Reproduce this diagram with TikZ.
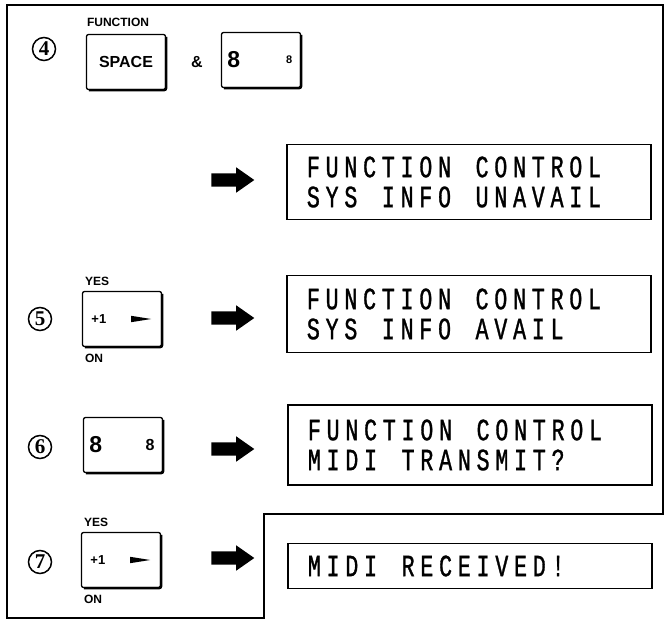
\documentclass[tikz,border=0pt]{standalone}
\usepackage{fontspec}
\setsansfont{Liberation Sans}
\newfontfamily\lcdfont{Liberation Mono}[FakeStretch=0.7, FakeBold=1]
\newfontfamily\numfont{Liberation Serif}
\usetikzlibrary{positioning, shapes.arrows}

% one fixed cell per character, as on the display
\ExplSyntaxOn
\NewDocumentCommand \lcdline { m }
  { \str_map_inline:nn {#1} { \makebox[18.75pt][c]{##1} } }
\ExplSyntaxOff

\tikzset{
  key/.style={draw, line width=1.3pt, rounded corners=2pt, minimum width=79pt, minimum height=55pt, inner sep=0pt},
  keytext/.style={font=\sffamily\bfseries\fontsize{16}{16}\selectfont, inner sep=0pt},
  keylabel/.style={font=\sffamily\bfseries\fontsize{12}{12}\selectfont, inner sep=0pt},
  stepnum/.style={circle, draw, line width=1.5pt, minimum size=23pt, inner sep=0pt, font=\numfont\bfseries\fontsize{21}{21}\selectfont},
  lcd/.style={draw, line width=1.2pt, text width=330pt, align=left, inner xsep=17pt, inner ysep=0pt, font=\lcdfont\fontsize{31}{30}\selectfont},
  goarrow/.style={single arrow, fill=black, inner xsep=0pt, inner ysep=6.5pt, minimum height=43pt, single arrow head extend=6pt, single arrow tip angle=70},
}

\begin{document}
\begin{tikzpicture}[x=1pt,y=-1pt]
\useasboundingbox (0,0) rectangle (665,621);
% frame
\draw[line width=1.3pt] (7,5) -- (663,5) -- (663,514) -- (264,514) -- (264,618) -- (7,618) -- cycle;

% step 4
\node[stepnum] (n4) at (44,49) {4};
\node[key, keytext] (space) at (126,62) {SPACE};
\node[keylabel, above right=7pt and 1pt of space.north west] (fn) {FUNCTION};
\node[keytext] (amp) at (197,62) {\&};
\node[key] (e4) at (261,60) {};
\node[keytext, font=\sffamily\bfseries\fontsize{23}{23}\selectfont] (e4a) at ([xshift=13pt]e4.west) {8};
\node[keytext, font=\sffamily\bfseries\fontsize{11}{11}\selectfont] (e4b) at ([xshift=-12pt]e4.east) {8};
\node[goarrow] (a4) at (228,180) {};
\node[lcd, minimum height=75pt] (d4) at (469,182) {\lcdline{FUNCTION CONTROL}\\\lcdline{SYS INFO UNAVAIL}};

% step 5
\node[stepnum] (n5) at (40,319) {5};
\node[key] (k5) at (122,319) {};
\node[keylabel, above right=5pt and 3pt of k5.north west] (y5) {YES};
\node[keylabel, below right=7pt and 3pt of k5.south west] (o5) {ON};
\node[keylabel, font=\sffamily\bfseries\fontsize{13}{13}\selectfont] (p5) at ([xshift=17pt]k5.west) {+1};
\fill ([xshift=-11pt]k5.east) -- ++(-20,-3.2) -- ++(0,6.4) -- cycle;
\node[goarrow] (a5) at (228,318) {};
\node[lcd, minimum height=77pt] (d5) at (469,314) {\lcdline{FUNCTION CONTROL}\\\lcdline{SYS INFO AVAIL}};

% step 6
\node[stepnum] (n6) at (40,447) {6};
\node[key] (k6) at (123,445) {};
\node[keytext, font=\sffamily\bfseries\fontsize{23}{23}\selectfont] (k6a) at ([xshift=13pt]k6.west) {8};
\node[keytext, font=\sffamily\bfseries\fontsize{16}{16}\selectfont] (k6b) at ([xshift=-13pt]k6.east) {8};
\node[goarrow] (a6) at (228,449) {};
\node[lcd, minimum height=80pt] (d6) at (470,445) {\lcdline{FUNCTION CONTROL}\\\lcdline{MIDI TRANSMIT?}};

% step 7
\node[stepnum] (n7) at (40,562) {7};
\node[key] (k7) at (121,560) {};
\node[keylabel, above right=5pt and 3pt of k7.north west] (y7) {YES};
\node[keylabel, below right=7pt and 3pt of k7.south west] (o7) {ON};
\node[keylabel, font=\sffamily\bfseries\fontsize{13}{13}\selectfont] (p7) at ([xshift=17pt]k7.west) {+1};
\fill ([xshift=-11pt]k7.east) -- ++(-20,-3.2) -- ++(0,6.4) -- cycle;
\node[goarrow] (a7) at (228,558) {};
\node[lcd, minimum height=45pt] (d7) at (470,566) {\lcdline{MIDI RECEIVED!}};

% heavy lower and right key edges
\foreach \k in {space,e4,k5,k6,k7}
  \draw[line width=2.4pt, rounded corners=2pt] ([yshift=-3pt]\k.north east) -- (\k.south east) -- ([xshift=3pt]\k.south west);
\end{tikzpicture}
\end{document}
